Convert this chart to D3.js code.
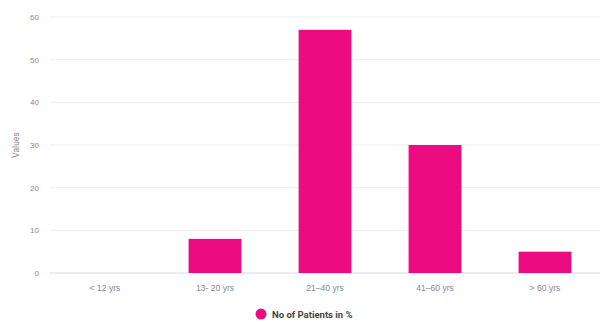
<!DOCTYPE html>
<html>
<head>
<meta charset="utf-8">
<script src="https://cdn.jsdelivr.net/npm/d3@7"></script>
<style>
  html, body { margin: 0; padding: 0; background: #fff; }
  svg { display: block; font-family: Roboto, "Noto Sans", sans-serif; }
</style>
</head>
<body>
<svg id="chart" width="604" height="321"></svg>
<script>
// Age groups and share of patients (%)
const categories = ["< 12 yrs", "13- 20 yrs", "21\u201340 yrs", "41\u201360 yrs", "> 60 yrs"];
const patientShare = [0, 8, 57, 30, 5];
const yTicks = [0, 10, 20, 30, 40, 50, 60];
const seriesName = "No of Patients in %";

const svg = d3.select("#chart");
const margin = { top: 17, right: 4, bottom: 48, left: 50 };
const width = 604 - margin.left - margin.right;
const height = 321 - margin.top - margin.bottom;

const g = svg.append("g").attr("transform", `translate(${margin.left},${margin.top})`);

const x = d3.scaleBand().domain(categories).range([0, width]).paddingInner(0.52).paddingOuter(0.26);
const y = d3.scaleLinear().domain([0, 60]).range([height, 0]);

// horizontal grid
g.append("g")
  .selectAll("line")
  .data(yTicks)
  .join("line")
  .attr("x1", 0).attr("x2", width)
  .attr("y1", d => y(d)).attr("y2", d => y(d))
  .attr("stroke", d => d === 0 ? "#d5d9e0" : "#eceef2")
  .attr("stroke-width", 1);

// y axis labels
const yAxis = g.append("g").call(d3.axisLeft(y).tickValues(yTicks).tickSize(0).tickPadding(11));
yAxis.select(".domain").remove();
yAxis.selectAll("text").attr("fill", "#8a8a8a").attr("font-size", 8);

svg.append("text")
  .attr("transform", `translate(19,${margin.top + height / 2}) rotate(-90)`)
  .attr("text-anchor", "middle")
  .attr("fill", "#8a8a8a")
  .attr("font-size", 8.5)
  .text("Values");

// x axis labels
const xAxis = g.append("g").attr("transform", `translate(0,${height})`)
  .call(d3.axisBottom(x).tickSize(0).tickPadding(12));
xAxis.select(".domain").remove();
xAxis.selectAll("text").attr("fill", "#8a8a8a").attr("font-size", 8.6);

// bars
g.append("g")
  .selectAll("rect")
  .data(categories.map((c, i) => ({ c, v: patientShare[i] })))
  .join("rect")
  .attr("x", d => x(d.c))
  .attr("width", x.bandwidth())
  .attr("y", d => y(d.v))
  .attr("height", d => y(0) - y(d.v))
  .attr("fill", "#ec0b80");

// legend
const legend = svg.append("g").attr("transform", "translate(261,314)");
legend.append("circle").attr("r", 5.5).attr("fill", "#ec0b80");
legend.append("text")
  .attr("x", 11).attr("y", 3.5)
  .attr("font-size", 9.5)
  .attr("font-weight", "bold")
  .attr("fill", "#444")
  .text(seriesName);
</script>
</body>
</html>
